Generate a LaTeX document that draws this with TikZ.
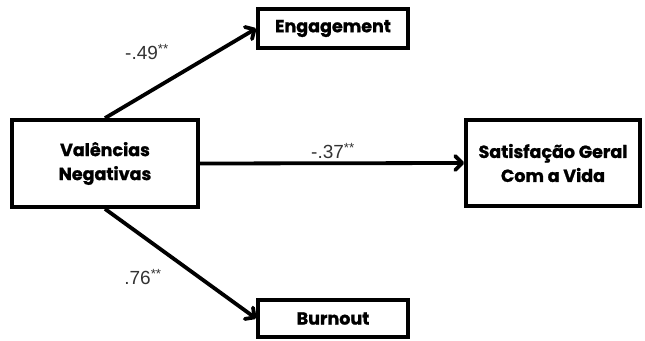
\documentclass[tikz,border=0pt]{standalone}
\usepackage{fontspec}
\usepackage{tikz}
\usetikzlibrary{arrows.meta}
\newfontfamily\boxfont{Poppins}[BoldFeatures={FakeBold=1.2}]
\newfontfamily\numfont{Liberation Sans}
\definecolor{labelgray}{HTML}{333333}

\begin{document}
\begin{tikzpicture}[x=1pt,y=-1pt,
    varbox/.style={
% The shape:
      rectangle,
% The border:
      line width=3.8pt,
      draw=black,
% The text:
      font=\boxfont\bfseries\fontsize{17.5}{24}\selectfont,
      align=center, inner sep=0pt
    },
    effect/.style={
      line width=3.8pt,
      -{Straight Barb[length=7pt,width=14pt,line cap=round,line join=round]}
    },
    coef/.style={
      font=\numfont\fontsize{19}{19}\selectfont, text=labelgray
    }]
  \useasboundingbox (0,0) rectangle (645,340);
% variables
  \node [varbox, minimum width=186pt, minimum height=87pt] (neg) at (105,163.5) {Valências\\Negativas};
  \node [varbox, minimum width=150pt, minimum height=39pt] (eng) at (333,28.5) {Engagement};
  \node [varbox, minimum width=150pt, minimum height=37pt] (bur) at (333,318.5) {Burnout};
  \node [varbox, minimum width=174pt, minimum height=86pt] (sat) at (553,163) {Satisfação Geral\\Com a Vida};
% paths
  \draw [effect] (neg.north) -- (eng.west);
  \draw [effect] (neg.east) -- (sat.west);
  \draw [effect] (neg.south) -- (bur.west);
% coefficients
  \node [coef] (c1) at (147,52) {-.49\textsuperscript{**}};
  \node [coef] (c2) at (333,151) {-.37\textsuperscript{**}};
  \node [coef] (c3) at (143,277) {.76\textsuperscript{**}};
\end{tikzpicture}
\end{document}
